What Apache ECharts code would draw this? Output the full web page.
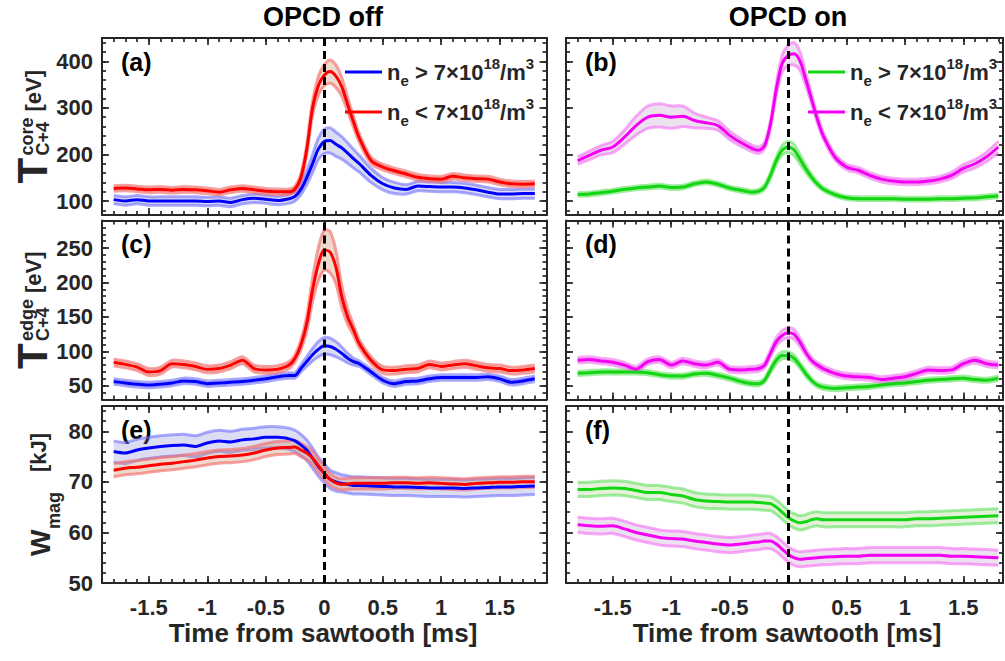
<!DOCTYPE html>
<html><head><meta charset="utf-8">
<script src="https://cdn.jsdelivr.net/npm/echarts@6/dist/echarts.min.js"></script>
<style>html,body{margin:0;padding:0;background:#fff}#c{width:1005px;height:661px}</style>
</head><body><div id="c"></div>
<script>
// ---------- data ----------
const T = [-1.8,-1.7,-1.6,-1.5,-1.4,-1.3,-1.2,-1.1,-1.0,-0.9,-0.8,-0.7,-0.6,-0.5,-0.4,-0.3,
  -0.25,-0.2,-0.15,-0.1,-0.05,0,0.05,0.1,0.15,0.2,0.25,0.3,
  0.4,0.5,0.6,0.7,0.8,0.9,1.0,1.1,1.2,1.3,1.4,1.5,1.6,1.7,1.8];

const xTickLabels = [-1.5,-1,-0.5,0,0.5,1,1.5];
const yTicksCore = [100,200,300,400];
const yTicksEdge = [50,100,150,200,250];
const yTicksW = [50,60,70,80];

// (a) T core, OPCD off
const coreOffHigh = [103,100,103,100,100,100,100,100,99,100,97,103,106,104,101,105,
  110,125,150,180,212,228,230,222,214,203,191,180,
  155,137,128,125,132,131,130,130,128,124,119,115,115,116,116];
const coreOffHighErr = [9,9,9,9,9,9,9,9,9,9,9,9,9,9,9,10,
  10,12,15,19,23,26,27,26,24,22,20,18,
  15,13,12,10,10,10,10,10,10,10,10,10,10,10,10];
const coreOffLow = [127,128,126,124,125,123,125,124,122,119,124,127,124,121,120,120,
  126,150,210,300,348,370,378,368,345,307,270,235,
  187,173,165,158,151,148,147,153,150,148,147,141,137,136,137];
const coreOffLowErr = [6,6,6,6,6,6,6,6,6,6,6,6,6,6,6,6,
  6,8,11,15,20,23,25,24,20,15,12,9,
  7,6,6,6,6,6,6,6,6,6,6,6,6,6,6];

// (b) T core, OPCD on
const coreOnHigh = [114,115,118,121,125,128,130,132,129,130,137,141,136,128,123,119,
  121,130,155,187,209,216,210,191,170,152,137,126,
  114,107,105,105,105,105,104,104,104,105,105,106,107,109,111];
const coreOnHighErr = [4,4,4,4,4,4,4,4,4,4,4,4,4,4,4,4,
  4,5,6,8,10,12,12,10,8,6,5,4,
  4,4,4,4,4,4,4,4,4,4,4,4,4,4,4];
const coreOnLow = [187,198,209,216,237,262,280,284,280,282,273,268,262,241,225,212,
  209,219,265,340,395,412,416,402,363,320,277,241,
  195,173,166,155,147,143,141,141,143,147,155,170,180,195,216];
const coreOnLowErr = [8,9,10,12,15,20,24,25,24,22,16,12,10,9,8,7,
  7,7,8,12,18,22,24,20,14,10,8,7,
  6,6,6,6,6,6,6,6,6,6,7,8,9,10,12];

// (c) T edge, OPCD off
const edgeOffHigh = [56,54,52,51,52,54,57,56,53,54,55,56,58,60,63,65,
  65,75,85,95,103,108,107,103,97,90,85,82,
  70,58,53,56,57,60,62,62,62,62,63,60,55,57,60];
const edgeOffHighErr = [4,4,4,4,4,4,4,4,4,4,4,4,4,4,4,4,
  4,5,7,9,11,12,12,11,9,7,5,4,
  4,4,4,4,4,4,4,4,4,4,4,4,4,4,4];
const edgeOffLow = [84,81,77,70,72,82,81,78,74,75,80,87,75,73,74,80,
  90,109,140,189,227,247,244,222,179,150,131,111,
  87,73,72,74,75,81,78,80,82,79,76,75,72,73,75];
const edgeOffLowErr = [5,5,5,5,5,5,5,5,5,5,5,5,5,5,5,5,
  5,7,11,17,24,29,30,24,16,11,8,6,
  5,5,5,5,5,5,5,5,5,5,5,5,5,5,5];

// (d) T edge, OPCD on
const edgeOnHigh = [68,69,70,70,70,70,69,66,64,64,67,68,65,61,56,53,
  53,58,73,87,94,94,90,80,68,58,51,48,
  46,47,48,49,51,53,54,56,58,59,60,61,59,58,61];
const edgeOnHighErr = [3,3,3,3,3,3,3,3,3,3,3,3,3,3,3,3,
  3,3,4,5,5,5,5,4,4,3,3,3,
  3,3,3,3,3,3,3,3,3,3,3,3,3,3,3];
const edgeOnLow = [87,88,86,84,80,74,85,88,80,86,82,80,84,74,73,74,
  75,80,97,114,123,127,125,114,99,87,80,75,
  68,64,63,62,59,61,63,68,73,72,73,82,87,82,80];
const edgeOnLowErr = [4,4,4,4,4,4,4,4,4,4,4,4,4,4,4,4,
  4,4,5,6,7,7,7,6,5,4,4,4,
  4,4,4,4,4,4,4,4,4,4,4,4,4,4,4];

// (e) W mag, OPCD off
const wOffHigh = [76,75.7,76.3,76.7,77,77.2,77.3,77,77.7,78.1,77.9,78.3,78.5,78.8,78.8,78.5,
  78.1,77.3,76.3,74.7,73,71.7,70.5,70,69.7,69.5,69.3,69.3,
  69.2,69.1,69,69,68.9,68.8,68.8,68.8,68.7,68.8,68.9,69,69,69.1,69.2];
const wOffHighErr = [2.1,2.1,2.1,2.1,2.1,2.1,2.1,2.1,2.1,2.1,2.1,2.1,2.1,2.1,2.1,2.1,
  2.1,2.1,2.0,2.0,1.9,1.9,1.8,1.8,1.7,1.7,1.7,1.7,
  1.7,1.7,1.7,1.7,1.7,1.7,1.7,1.7,1.7,1.7,1.7,1.7,1.7,1.7,1.7];
const wOffLow = [72.3,72.7,72.9,73.2,73.5,73.7,74,74.3,74.7,75,75.1,75.3,75.7,76.3,76.7,76.8,
  76.9,76.3,75.7,74.7,73.2,71.7,70.5,69.8,69.5,69.6,69.7,69.7,
  69.7,69.7,69.8,69.8,69.7,69.8,69.7,69.6,69.5,69.7,69.8,69.9,69.9,70,70];
const wOffLowErr = [1.3,1.3,1.3,1.3,1.3,1.3,1.3,1.3,1.3,1.3,1.3,1.3,1.3,1.3,1.3,1.3,
  1.3,1.3,1.3,1.3,1.3,1.2,1.2,1.1,1.1,1.1,1.1,1.1,
  1.1,1.1,1.1,1.1,1.1,1.1,1.1,1.1,1.1,1.1,1.1,1.1,1.1,1.1,1.1];

// (f) W mag, OPCD on
const wOnHigh = [68.5,68.5,68.7,68.8,68.7,68.3,67.9,67.9,67.5,67.2,66.5,66.2,66.1,66,66,66,
  65.9,65.8,65.7,65,64,63,62.3,61.9,62.1,62.5,62.7,62.5,
  62.5,62.5,62.5,62.5,62.5,62.5,62.5,62.7,62.7,62.8,62.9,63,63.1,63.2,63.3];
const wOnHighErr = [1.4,1.4,1.4,1.4,1.4,1.4,1.4,1.4,1.4,1.4,1.4,1.4,1.4,1.4,1.4,1.4,
  1.4,1.4,1.4,1.4,1.4,1.4,1.4,1.4,1.4,1.4,1.4,1.4,
  1.4,1.4,1.4,1.4,1.4,1.4,1.4,1.4,1.4,1.4,1.4,1.4,1.4,1.4,1.4];
const wOnLow = [61.5,61.3,61.2,61.3,60.7,60,59.5,59,58.8,58.7,58.3,58,57.7,57.5,57.7,58,
  58.1,58.3,58.3,57.7,56.7,55.7,55,54.7,54.8,54.9,55,55.1,
  55.2,55.3,55.3,55.5,55.5,55.5,55.5,55.5,55.5,55.5,55.3,55.3,55.2,55.1,55];
const wOnLowErr = [1.5,1.5,1.5,1.5,1.5,1.5,1.5,1.5,1.5,1.5,1.5,1.5,1.5,1.5,1.5,1.5,
  1.5,1.5,1.5,1.5,1.5,1.5,1.5,1.5,1.5,1.5,1.5,1.5,
  1.5,1.5,1.5,1.5,1.5,1.5,1.5,1.5,1.5,1.5,1.5,1.5,1.5,1.5,1.5];

// ---------- styling / layout ----------
const FF = '"Liberation Sans", Arial, Helvetica, sans-serif';
const AX = '#262626';
const COL = {
  blue:   {line:'#0000ff', edge:'rgba(100,100,255,0.55)', fill:'rgba(140,140,215,0.30)'},
  red:    {line:'#ff0000', edge:'rgba(245,110,110,0.65)', fill:'rgba(205,150,110,0.35)'},
  green:  {line:'#12d612', edge:'rgba(95,225,95,0.60)',  fill:'rgba(175,210,140,0.32)'},
  magenta:{line:'#f400f4', edge:'rgba(245,110,245,0.60)', fill:'rgba(200,170,205,0.35)'}
};
const COLS = [{left:102, width:444.5, max:1.9}, {left:566, width:437, max:1.84}];
const ROWS = [{top:38, height:177}, {top:220.5, height:179}, {top:406, height:177}];

function range(a, b, s) { const o = []; for (let v = a; v <= b + 1e-9; v += s) o.push(Math.round(v * 1000) / 1000); return o; }
const xMinor = range(-1.9, 1.9, 0.1);

const PANELS = [
  {col:0,row:0,yMin:70,yMax:450,yMaj:yTicksCore,yMin_:range(80,440,20),letter:'(a)',
   lines:[['offHigh',coreOffHigh,coreOffHighErr,'blue'],['offLow',coreOffLow,coreOffLowErr,'red']]},
  {col:1,row:0,yMin:70,yMax:450,yMaj:yTicksCore,yMin_:range(80,440,20),letter:'(b)',
   lines:[['onHigh',coreOnHigh,coreOnHighErr,'green'],['onLow',coreOnLow,coreOnLowErr,'magenta']]},
  {col:0,row:1,yMin:30,yMax:290,yMaj:yTicksEdge,yMin_:range(30,290,10),letter:'(c)',
   lines:[['c_offHigh',edgeOffHigh,edgeOffHighErr,'blue'],['c_offLow',edgeOffLow,edgeOffLowErr,'red']]},
  {col:1,row:1,yMin:30,yMax:290,yMaj:yTicksEdge,yMin_:range(30,290,10),letter:'(d)',
   lines:[['d_onHigh',edgeOnHigh,edgeOnHighErr,'green'],['d_onLow',edgeOnLow,edgeOnLowErr,'magenta']]},
  {col:0,row:2,yMin:50,yMax:85,yMaj:yTicksW,yMin_:range(50,84,2),letter:'(e)',
   lines:[['e_offHigh',wOffHigh,wOffHighErr,'blue'],['e_offLow',wOffLow,wOffLowErr,'red']]},
  {col:1,row:2,yMin:50,yMax:85,yMaj:yTicksW,yMin_:range(50,84,2),letter:'(f)',
   lines:[['f_onHigh',wOnHigh,wOnHighErr,'green'],['f_onLow',wOnLow,wOnLowErr,'magenta']]}
];

const grid = [], xAxis = [], yAxis = [], series = [], graphic = [];
const labelStyle = {fontSize:22, fontWeight:'bold', color:AX, fontFamily:FF};

function mkAxis(gi, pos, min, max, ticks, len, line, labels, margin) {
  const inR = ticks.filter(v => v >= min - 1e-9 && v <= max + 1e-9);
  return {
    gridIndex: gi, type: 'value', min: min, max: max, position: pos,
    axisLine: {show: line, onZero: false, lineStyle: {color: AX, width: 2}},
    axisTick: {show: true, inside: true, length: len, customValues: inR, lineStyle: {color: AX, width: 1.7}},
    axisLabel: labels ? Object.assign({show: true, customValues: inR, margin: margin}, labelStyle) : {show: false},
    splitLine: {show: false}, minorTick: {show: false}
  };
}

function bandSeries(gi, mean, err, c) {
  return {
    type: 'custom', xAxisIndex: gi * 4, yAxisIndex: gi * 4, silent: true, z: 2,
    data: T.map((t, i) => [t, mean[i] - err[i], mean[i] + err[i]]),
    encode: {x: 0, y: [1, 2]},
    renderItem: function (params, api) {
      if (params.dataIndex !== 0) return null;
      const up = [], lo = [];
      for (let i = 0; i < T.length; i++) {
        up.push(api.coord([T[i], mean[i] + err[i]]));
        lo.push(api.coord([T[i], mean[i] - err[i]]));
      }
      return {type: 'group', children: [
        {type: 'polygon', shape: {points: up.concat(lo.slice().reverse())}, style: {fill: c.fill}},
        {type: 'polyline', shape: {points: up, smooth: 0.3}, style: {stroke: c.edge, lineWidth: 3, fill: 'none'}},
        {type: 'polyline', shape: {points: lo, smooth: 0.3}, style: {stroke: c.edge, lineWidth: 3, fill: 'none'}}
      ]};
    }
  };
}

PANELS.forEach((p, gi) => {
  const C = COLS[p.col], R = ROWS[p.row];
  grid.push({left: C.left, top: R.top, width: C.width, height: R.height, containLabel: false});
  xAxis.push(mkAxis(gi, 'bottom', -1.9, C.max, xTickLabels, 7, true, p.row === 2, 13));
  xAxis.push(mkAxis(gi, 'bottom', -1.9, C.max, xMinor, 4, false, false));
  xAxis.push(mkAxis(gi, 'top', -1.9, C.max, xTickLabels, 7, true, false));
  xAxis.push(mkAxis(gi, 'top', -1.9, C.max, xMinor, 4, false, false));
  yAxis.push(mkAxis(gi, 'left', p.yMin, p.yMax, p.yMaj, 7, true, p.col === 0, 9));
  yAxis.push(mkAxis(gi, 'left', p.yMin, p.yMax, p.yMin_, 4, false, false));
  yAxis.push(mkAxis(gi, 'right', p.yMin, p.yMax, p.yMaj, 7, true, false));
  yAxis.push(mkAxis(gi, 'right', p.yMin, p.yMax, p.yMin_, 4, false, false));
  p.lines.forEach((L, k) => {
    const c = COL[L[3]];
    series.push(bandSeries(gi, L[1], L[2], c));
    const s = {
      type: 'line', name: L[0], xAxisIndex: gi * 4, yAxisIndex: gi * 4, z: 2,
      data: T.map((t, i) => [t, L[1][i]]), smooth: 0.3, symbol: 'none', silent: true,
      lineStyle: {color: c.line, width: 3}, itemStyle: {color: c.line}
    };
    if (k === p.lines.length - 1) {
      s.markLine = {silent: true, symbol: ['none', 'none'], label: {show: false},
        lineStyle: {color: '#000', width: 3, type: [8, 5]}, data: [{xAxis: 0}]};
    }
    series.push(s);
  });
  graphic.push({type: 'text', x: C.left + 19, y: [62, 243.5, 429.5][p.row],
    style: {text: p.letter, font: 'bold 25px ' + FF, fill: '#000', textAlign: 'left', textVerticalAlign: 'middle'}});
});

// titles and axis names
graphic.push({type: 'text', x: 323, y: 17, style: {text: 'OPCD off', font: 'bold 27px ' + FF, fill: '#000', textAlign: 'center', textVerticalAlign: 'middle'}});
graphic.push({type: 'text', x: 788, y: 17, style: {text: 'OPCD on', font: 'bold 27px ' + FF, fill: '#000', textAlign: 'center', textVerticalAlign: 'middle'}});
graphic.push({type: 'text', x: 323, y: 633, style: {text: 'Time from sawtooth [ms]', font: 'bold 26px ' + FF, fill: AX, textAlign: 'center', textVerticalAlign: 'middle'}});
graphic.push({type: 'text', x: 787, y: 633, style: {text: 'Time from sawtooth [ms]', font: 'bold 26px ' + FF, fill: AX, textAlign: 'center', textVerticalAlign: 'middle'}});

function yLabel(x0, cy, total, parts) {
  return {type: 'group', x: x0, y: cy + total / 2, rotation: Math.PI / 2,
    children: parts.map(q => ({type: 'text', x: q[1], y: q[2],
      style: {text: q[0], font: 'bold ' + q[3] + 'px ' + FF, fill: AX, textAlign: 'left', textVerticalAlign: 'middle'}}))};
}
graphic.push(yLabel(47, 126.5, 114, [['T', 0, -14.7, 42], ['core', 28, -20.3, 18], ['C+4', 28, -4.5, 18], ['[eV]', 72, -13.7, 22]]));
graphic.push(yLabel(47, 310, 118, [['T', 0, -14.7, 42], ['edge', 28, -20.3, 18], ['C+4', 28, -4.5, 18], ['[eV]', 76, -13.7, 22]]));
graphic.push(yLabel(50, 494.5, 123, [['W', 0, -10, 28], ['mag', 27, 4, 18], ['[kJ]', 84, -11.7, 22]]));

// legends
const legRich = {
  n: {fontSize: 22, fontWeight: 'bold', fontFamily: FF, color: AX, lineHeight: 32},
  s: {fontSize: 15, fontWeight: 'bold', fontFamily: FF, color: AX, lineHeight: 8, verticalAlign: 'bottom'},
  p: {fontSize: 15, fontWeight: 'bold', fontFamily: FF, color: AX, lineHeight: 17, verticalAlign: 'top'}
};
function legFmt(name) {
  const op = /High$/.test(name) ? '>' : '<';
  return '{n|n}{s|e}{n| ' + op + ' 7\u00d710}{p|18}{n|/m}{p|3}';
}
function mkLegend(left, names) {
  return {show: true, left: left, top: 56, orient: 'vertical', padding: 0, itemGap: 8,
    itemWidth: 37, itemHeight: 3, icon: 'rect', selectedMode: false, data: names,
    formatter: legFmt, textStyle: {rich: legRich}};
}

const chart = echarts.init(document.getElementById('c'), null, {renderer: 'svg'});
chart.setOption({
  animation: false, backgroundColor: '#fff',
  grid, xAxis, yAxis, series, graphic,
  legend: [mkLegend(345, ['offHigh', 'offLow']), mkLegend(808, ['onHigh', 'onLow'])]
});
</script></body></html>
